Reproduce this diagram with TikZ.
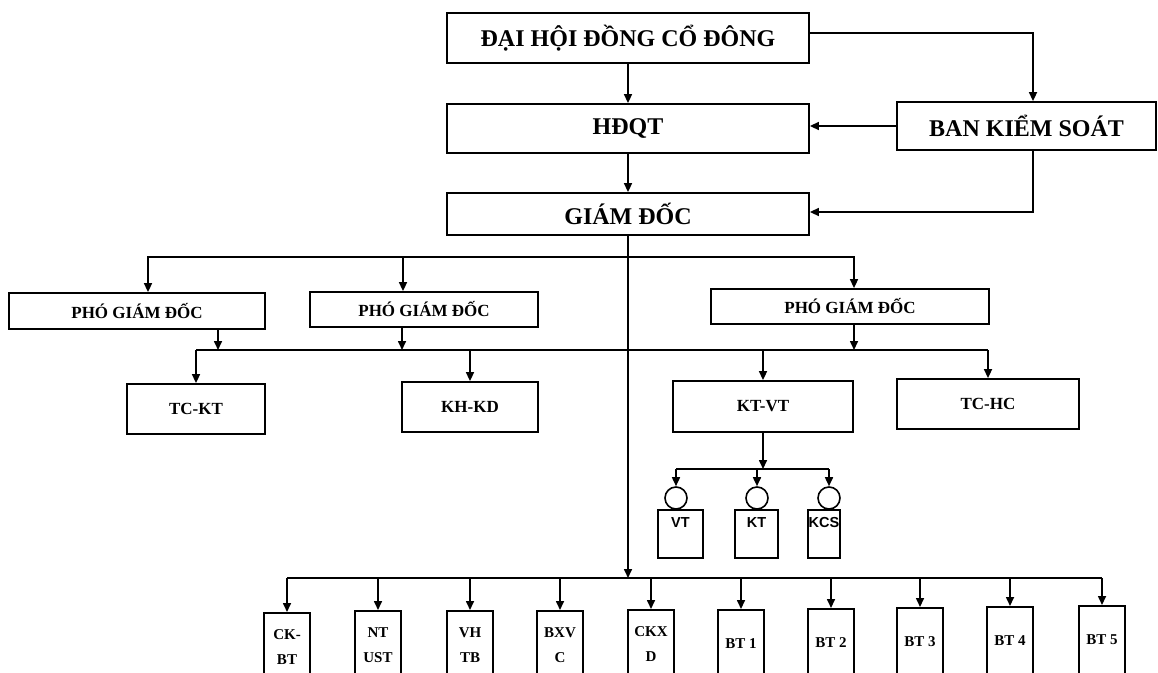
\documentclass[tikz,border=0pt]{standalone}
\usepackage{fontspec}
\setmainfont{Liberation Serif}
\newfontfamily\arialf{Liberation Sans}
\usetikzlibrary{arrows.meta,calc}
\begin{document}
\begin{tikzpicture}[x=1pt,y=-1pt,
  line/.style={line width=1.6pt},
  arr/.style={line width=1.6pt,-{Triangle[length=9pt,width=8pt]}},
  bigbox/.style={draw,line width=1.8pt,inner sep=0pt,font=\bfseries\fontsize{24}{28}\selectfont},
  midbox/.style={draw,line width=1.8pt,inner sep=0pt,font=\bfseries\fontsize{17}{20}\selectfont},
  smallbox/.style={draw,line width=1.6pt,inner sep=0pt,minimum width=45pt,minimum height=48pt},
  lbl/.style={font=\arialf\bfseries\fontsize{14.5}{18}\selectfont,inner sep=0pt,anchor=north,yshift=-8pt},
  ring/.style={draw,circle,line width=1.6pt,minimum size=22pt,inner sep=0pt},
  botbox/.style={draw,line width=1.6pt,inner sep=0pt,anchor=north,minimum width=46pt,minimum height=68pt,align=center,font=\bfseries\fontsize{15}{25}\selectfont}
]
\clip (0,0) rectangle (1158,672);
\fill[white] (0,0) rectangle (1158,672);

% top level
\node[bigbox,minimum width=362pt,minimum height=50pt] (dh) at (628,38) {ĐẠI HỘI ĐỒNG CỔ ĐÔNG};
\node[bigbox,minimum width=362pt,minimum height=49pt] (hdqt) at (628,128.5) {HĐQT};
\node[bigbox,minimum width=259pt,minimum height=48pt] (bks) at (1026.5,126) {BAN KIỂM SOÁT};
\node[bigbox,minimum width=362pt,minimum height=42pt] (gd) at (628,214) {GIÁM ĐỐC};

% deputies
\node[midbox,minimum width=256pt,minimum height=36pt] (pgd1) at (137,311) {PHÓ GIÁM ĐỐC};
\node[midbox,minimum width=228pt,minimum height=35pt] (pgd2) at (424,309.5) {PHÓ GIÁM ĐỐC};
\node[midbox,minimum width=278pt,minimum height=35pt] (pgd3) at (850,306.5) {PHÓ GIÁM ĐỐC};

% departments
\node[midbox,minimum width=138pt,minimum height=50pt] (tckt) at (196,409) {TC-KT};
\node[midbox,minimum width=136pt,minimum height=50pt] (khkd) at (470,407) {KH-KD};
\node[midbox,minimum width=180pt,minimum height=51pt] (ktvt) at (763,406.5) {KT-VT};
\node[midbox,minimum width=182pt,minimum height=50pt] (tchc) at (988,404) {TC-HC};

% KT-VT sub units
\node[ring] (r1) at (676,498) {};
\node[ring] (r2) at (757,498) {};
\node[ring] (r3) at (829,498) {};
\node[smallbox,label={[lbl]north:VT}] (vt) at (680.5,534) {};
\node[smallbox,minimum width=43pt,label={[lbl]north:KT}] (kt) at (756.5,534) {};
\node[smallbox,minimum width=32pt,label={[lbl]north:KCS}] (kcs) at (824,534) {};

% bottom units
\node[botbox] (ckbt) at (287,612) {CK-\\BT};
\node[botbox] (ntust) at (378,610) {NT\\UST};
\node[botbox] (vhtb) at (470,610) {VH\\TB};
\node[botbox] (bxvc) at (560,610) {BXV\\C};
\node[botbox] (ckxd) at (651,609) {CKX\\D};
\node[botbox] (bt1) at (741,609) {BT 1};
\node[botbox] (bt2) at (831,608) {BT 2};
\node[botbox] (bt3) at (920,607) {BT 3};
\node[botbox] (bt4) at (1010,606) {BT 4};
\node[botbox] (bt5) at (1102,605) {BT 5};

% bus coordinates
\coordinate (jA) at (628,257);
\coordinate (mL) at (196,350);
\coordinate (mR) at (988,350);
\coordinate (sK) at (763,469);
\coordinate (bB) at (628,578);

% top connectors
\draw[arr] (dh) -- (hdqt);
\draw[arr] (hdqt) -- (gd);
\draw[arr] ([yshift=5pt]dh.east) -| ([xshift=6.5pt]bks.north);
\draw[arr] (bks.west) -- (bks.west -| hdqt.east);
\draw[arr] ([xshift=6.5pt]bks.south) |- ([yshift=2pt]gd.east);

% director to deputies and to bottom bus
\draw[arr] (gd.south) -- (bB);
\draw[arr] (jA) -| ([xshift=11pt]pgd1.north);
\draw[arr] (jA) -| ([xshift=-21pt]pgd2.north);
\draw[arr] (jA) -| ([xshift=4pt]pgd3.north);

% deputies to departments
\draw[arr] ([xshift=81pt]pgd1.south) -- ([xshift=81pt]pgd1.south |- mL);
\draw[arr] ([xshift=-22pt]pgd2.south) -- ([xshift=-22pt]pgd2.south |- mL);
\draw[arr] ([xshift=4pt]pgd3.south) -- ([xshift=4pt]pgd3.south |- mL);
\draw[line] (mL) -- (mR);
\draw[arr] (mL) -- (mL |- tckt.north);
\draw[arr] (khkd.north |- mL) -- (khkd.north);
\draw[arr] (ktvt.north |- mL) -- (ktvt.north);
\draw[arr] (mR) -- (tchc.north);

% KT-VT to sub units
\draw[arr] (ktvt.south) -- (sK);
\draw[line] (r1.north |- sK) -- (r3.north |- sK);
\draw[arr] (r1.north |- sK) -- (r1.north);
\draw[arr] (r2.north |- sK) -- (r2.north);
\draw[arr] (r3.north |- sK) -- (r3.north);

% bottom bus
\draw[line] (ckbt.north |- bB) -- (bt5.north |- bB);
\foreach \n in {ckbt,ntust,vhtb,bxvc,ckxd,bt1,bt2,bt3,bt4,bt5}{
  \draw[arr] (\n.north |- bB) -- (\n.north);
}
\end{tikzpicture}
\end{document}
